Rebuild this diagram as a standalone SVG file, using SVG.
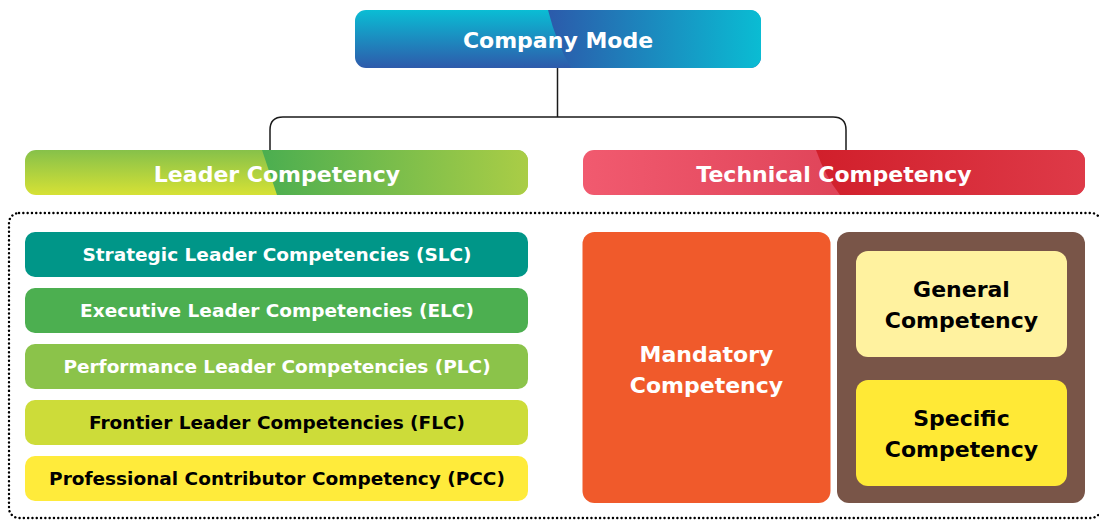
<svg xmlns="http://www.w3.org/2000/svg" width="1099" height="520" viewBox="0 0 1099 520">
  <style>
    .t { font-family: "DejaVu Sans", "Liberation Sans", sans-serif; font-weight: bold; text-anchor: middle; }
    .w { fill: #ffffff; }
    .k { fill: #000000; }
    .hd { font-size: 22px; }
    .row { font-size: 18.5px; }
    .big { font-size: 22px; }
    .conn { fill: none; stroke: #1a1a1a; stroke-width: 1.5; }
    .dots { fill: none; stroke: #000; stroke-width: 2.4; stroke-dasharray: 0.1 4.2; stroke-linecap: round; }
  </style>
  <defs>
    <linearGradient id="cmL" x1="0" y1="0" x2="0" y2="1">
      <stop offset="0" stop-color="#0ABDD4"/>
      <stop offset="1" stop-color="#2E5AAB"/>
    </linearGradient>
    <linearGradient id="cmR" gradientUnits="userSpaceOnUse" x1="550" y1="0" x2="761" y2="0">
      <stop offset="0" stop-color="#2B5BAB"/>
      <stop offset="1" stop-color="#0ABCD3"/>
    </linearGradient>
    <linearGradient id="lcL" x1="0" y1="0" x2="0" y2="1">
      <stop offset="0" stop-color="#86C14A"/>
      <stop offset="1" stop-color="#D6E135"/>
    </linearGradient>
    <linearGradient id="lcR" gradientUnits="userSpaceOnUse" x1="262" y1="0" x2="528" y2="0">
      <stop offset="0" stop-color="#4BAE50"/>
      <stop offset="1" stop-color="#AACD46"/>
    </linearGradient>
    <linearGradient id="tcL" gradientUnits="userSpaceOnUse" x1="583" y1="0" x2="830" y2="0">
      <stop offset="0" stop-color="#F15A6F"/>
      <stop offset="1" stop-color="#E0455A"/>
    </linearGradient>
    <linearGradient id="tcR" gradientUnits="userSpaceOnUse" x1="816" y1="0" x2="1085" y2="0">
      <stop offset="0" stop-color="#D11F2B"/>
      <stop offset="1" stop-color="#DE3A48"/>
    </linearGradient>
    <clipPath id="cmClip"><rect x="355" y="10" width="406" height="58" rx="11"/></clipPath>
    <clipPath id="lcClip"><rect x="25" y="150" width="503" height="45" rx="11"/></clipPath>
    <clipPath id="tcClip"><rect x="583" y="150" width="502" height="45" rx="11"/></clipPath>
  </defs>

  <g id="connectors">
    <path class="conn" d="M557.5 68 V117"/>
    <path class="conn" d="M270 150 V130 Q270 117 283 117 H833 Q846 117 846 130 V150"/>
  </g>

  <g id="group-border">
    <rect class="dots" x="9" y="213" width="1092" height="305" rx="10"/>
  </g>

  <g id="company-mode">
    <rect x="355" y="10" width="406" height="58" rx="11" fill="url(#cmL)"/>
    <path clip-path="url(#cmClip)" d="M548 10 Q556 42 571 68 L761 68 L761 10 Z" fill="url(#cmR)"/>
    <text class="t w hd" x="558" y="47.5">Company Mode</text>
  </g>

  <g id="leader-competency">
    <rect x="25" y="150" width="503" height="45" rx="11" fill="url(#lcL)"/>
    <path clip-path="url(#lcClip)" d="M262 150 L277 195 L528 195 L528 150 Z" fill="url(#lcR)"/>
    <text class="t w hd" x="277" y="182">Leader Competency</text>
  </g>

  <g id="technical-competency">
    <rect x="583" y="150" width="502" height="45" rx="11" fill="url(#tcL)"/>
    <path clip-path="url(#tcClip)" d="M816 150 Q825 176 840 195 L1085 195 L1085 150 Z" fill="url(#tcR)"/>
    <text class="t w hd" x="834" y="182">Technical Competency</text>
  </g>

  <g id="slc">
    <rect x="25" y="232" width="503" height="45" rx="10" fill="#009688"/>
    <text class="t w row" x="277" y="261">Strategic Leader Competencies (SLC)</text>
  </g>
  <g id="elc">
    <rect x="25" y="288" width="503" height="45" rx="10" fill="#4CAF50"/>
    <text class="t w row" x="277" y="317">Executive Leader Competencies (ELC)</text>
  </g>
  <g id="plc">
    <rect x="25" y="344" width="503" height="45" rx="10" fill="#8BC34A"/>
    <text class="t w row" x="277" y="373">Performance Leader Competencies (PLC)</text>
  </g>
  <g id="flc">
    <rect x="25" y="400" width="503" height="45" rx="10" fill="#CDDC39"/>
    <text class="t k row" x="277" y="429">Frontier Leader Competencies (FLC)</text>
  </g>
  <g id="pcc">
    <rect x="25" y="456" width="503" height="45" rx="10" fill="#FFEB3B"/>
    <text class="t k row" x="277" y="485">Professional Contributor Competency (PCC)</text>
  </g>

  <g id="mandatory">
    <rect x="582.5" y="232" width="248" height="271" rx="12" fill="#F05A2B"/>
    <text class="t w big" x="706.5" y="362">Mandatory</text>
    <text class="t w big" x="706.5" y="393">Competency</text>
  </g>

  <g id="functional-group">
    <rect x="837" y="232" width="248" height="271" rx="12" fill="#795548"/>
  </g>
  <g id="general">
    <rect x="856" y="251" width="211" height="106" rx="12" fill="#FFF29F"/>
    <text class="t k big" x="961.5" y="297">General</text>
    <text class="t k big" x="961.5" y="328">Competency</text>
  </g>
  <g id="specific">
    <rect x="856" y="380" width="211" height="106" rx="12" fill="#FFE936"/>
    <text class="t k big" x="961.5" y="426">Specific</text>
    <text class="t k big" x="961.5" y="457">Competency</text>
  </g>
</svg>
